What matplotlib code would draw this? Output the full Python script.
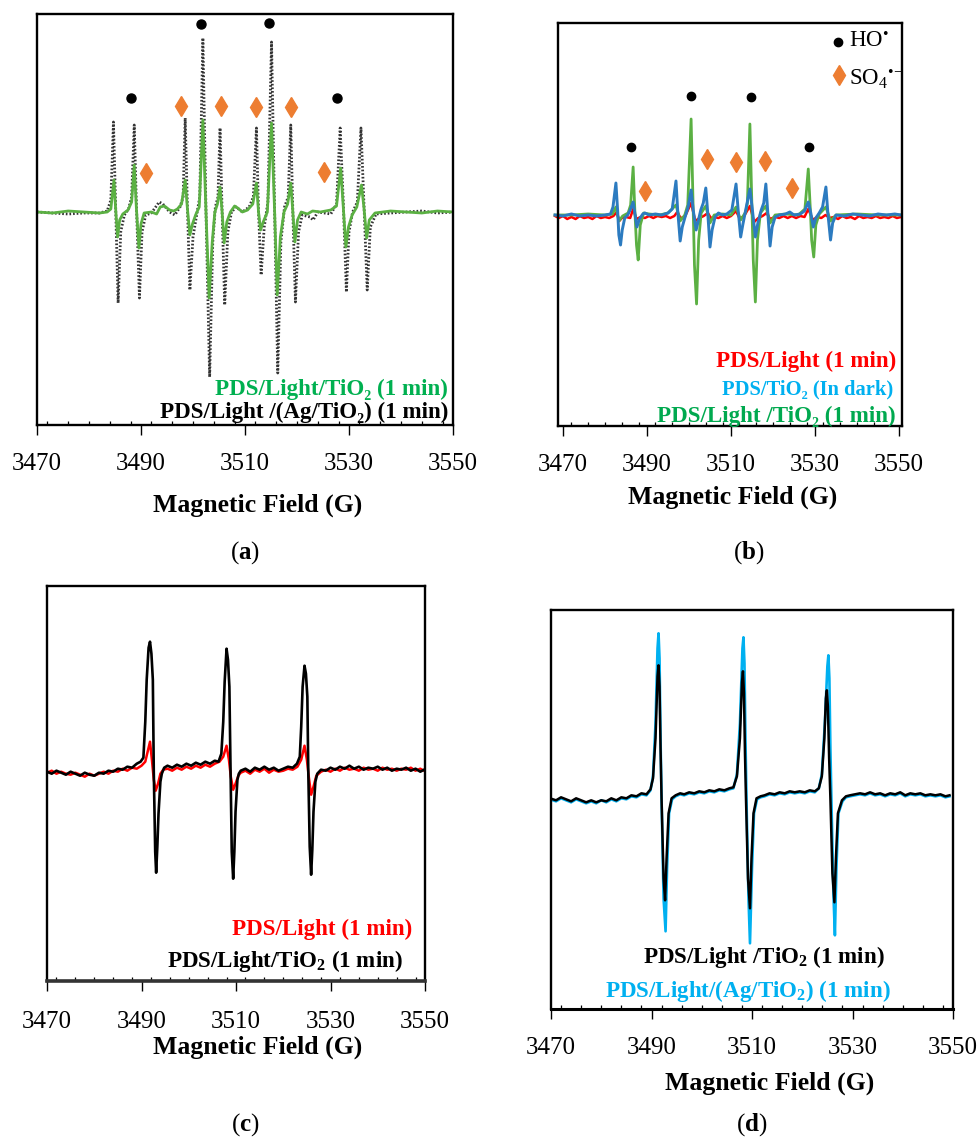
import numpy as np
import matplotlib
matplotlib.use("Agg")
import matplotlib.pyplot as plt
from matplotlib.ticker import MultipleLocator

plt.rcParams['font.family'] = ['Liberation Serif', 'DejaVu Serif']
plt.rcParams['mathtext.fontset'] = 'custom'
plt.rcParams['mathtext.rm'] = 'Liberation Serif'
plt.rcParams['mathtext.it'] = 'Liberation Serif:italic'
plt.rcParams['mathtext.bf'] = 'Liberation Serif:bold'

W, H = 979, 1137

GREEN_TXT = '#00B050'
GREEN_LN = '#5BB043'
ORANGE = '#ED7D31'
BLUE_LN = '#2C7BC0'
CYAN = '#00B0F0'
RED = '#FF0000'

# ---- panel (a): field (G), intensity (a.u.) ----
a_black = [
    (3470, 0), (3473, -1), (3476, -2), (3479, -1), (3482, -1), (3483.5, 1),
    (3484.2, 12), (3484.7, 90), (3485.1, 10), (3485.6, -91), (3486.1, -20),
    (3486.8, -3), (3487.6, 3), (3488.2, 15), (3488.7, 87), (3489.1, 10),
    (3489.7, -86), (3490.2, -20), (3490.9, -3), (3492, -1), (3493.5, 10),
    (3494.2, 8), (3495.5, 0), (3496.5, -3), (3497.5, 5), (3498.1, 15),
    (3498.5, 94), (3498.9, 10), (3499.4, -78), (3500.0, -25), (3500.7, -3),
    (3501.3, 15), (3501.9, 174), (3502.5, 0), (3503.2, -165), (3503.8, -30),
    (3504.3, 5), (3504.8, 15), (3505.2, 84), (3505.6, 0), (3506.1, -93),
    (3506.7, -20), (3507.4, 0), (3508.3, 5), (3509.5, 0), (3510.8, 5),
    (3511.6, 15), (3512.2, 84), (3512.6, 0), (3513.1, -63), (3513.7, -15),
    (3514.4, 10), (3515.1, 170), (3515.7, 0), (3516.3, -161), (3516.9, -30),
    (3517.6, 5), (3518.3, 15), (3518.8, 87), (3519.2, 0), (3519.7, -90),
    (3520.3, -20), (3521.0, -3), (3522.5, -5), (3523.1, -8), (3524.0, 0),
    (3526.5, -2), (3527.6, 8), (3528.3, 84), (3528.9, 10), (3529.5, -80),
    (3530.0, -20), (3530.7, 0), (3531.6, 10), (3532.3, 84), (3532.9, 5),
    (3533.5, -78), (3534.1, -15), (3535.2, -2), (3538, -1), (3541, 0),
    (3544, 1), (3547, -1), (3550, 0)]
a_green = [
    (3470, 0), (3473, -1), (3476, 1), (3479, 0), (3482, -1), (3483.5, 0),
    (3484.2, 3), (3484.8, 32), (3485.1, 5), (3485.5, -25), (3485.9, -8),
    (3486.5, -2), (3487.5, 2), (3488.2, 10), (3488.7, 47), (3489.1, 5),
    (3489.6, -36), (3490.0, -12), (3490.6, -1), (3492, 0), (3493.0, -2),
    (3493.7, 5), (3494.5, 6), (3495.5, 2), (3496.3, 1), (3497.0, 3),
    (3497.8, 8), (3498.5, 32), (3498.9, 5), (3499.4, -23), (3499.9, -12),
    (3500.5, -3), (3501.2, 5), (3501.9, 92), (3502.5, 0), (3503.1, -86),
    (3503.7, -30), (3504.2, 0), (3504.7, 8), (3505.2, 25), (3505.6, 0),
    (3506.0, -31), (3506.5, -10), (3507.2, 0), (3508.0, 6), (3508.6, 4),
    (3509.5, 0), (3510.5, 2), (3511.5, 8), (3512.2, 29), (3512.6, 0),
    (3513.0, -18), (3513.5, -10), (3514.3, 0), (3515.1, 89), (3515.7, 0),
    (3516.2, -83), (3516.8, -25), (3517.5, 0), (3518.2, 8), (3518.8, 29),
    (3519.2, 0), (3519.6, -30), (3520.1, -8), (3520.8, 0), (3522, -2),
    (3523, 1), (3524.5, 0), (3526.5, 2), (3527.6, 6), (3528.4, 44),
    (3528.9, 5), (3529.4, -35), (3529.9, -15), (3530.6, -3), (3531.5, 5),
    (3532.4, 27), (3532.9, 3), (3533.4, -26), (3533.9, -8), (3535, -1),
    (3538, 1), (3541, 0), (3544, -1), (3547, 1), (3550, 0)]
a_ho_x = [3488.1, 3501.5, 3514.6, 3527.6]
a_ho_y = [114, 188, 189, 114]
a_so4_x = [3491.0, 3497.7, 3505.3, 3512.1, 3518.8, 3525.1]
a_so4_y = [39, 106, 106, 105, 105, 40]

# ---- panel (b) ----
b_red = [
    (3468.1, -1), (3469, -3), (3470, -1), (3471, -4), (3472, -2), (3473, -4),
    (3474, -1), (3475, -3), (3476, -2), (3477, -4), (3478, -1), (3479, -3),
    (3480, -2), (3481, -3), (3482, -1), (3482.8, 3), (3483.4, -6), (3484, -3),
    (3485, -2), (3486, -3), (3486.7, 6), (3487.5, -4), (3488.5, -2),
    (3489.5, -3), (3490.5, -1), (3491.5, -3), (3492.5, -1), (3493.5, -2),
    (3494.5, -1), (3495.5, -3), (3496.5, -1), (3497.2, 3), (3498, -3),
    (3499, -2), (3500.5, 12), (3501.5, -6), (3502.5, -3), (3503.5, -1),
    (3504.5, 2), (3505.2, -3), (3506, -2), (3507, -3), (3508, -1), (3509, -3),
    (3510, -1), (3511.2, 4), (3512, -3), (3513, -2), (3514.5, 9), (3515.5, -7),
    (3516.5, -3), (3517.5, -1), (3518.5, 2), (3519.3, -4), (3520.5, -2),
    (3521.5, -3), (3522.5, -1), (3523.5, -3), (3524.5, -1), (3525.5, -3),
    (3526.5, -1), (3527.5, -2), (3528.4, 6), (3529.5, -5), (3530.5, -2),
    (3531.5, -3), (3532.5, 0), (3533.5, -3), (3534.5, -2), (3535.5, -4),
    (3536.5, -1), (3537.5, -3), (3538.5, -2), (3539.5, -4), (3540.5, -1),
    (3541.5, -3), (3542.5, -2), (3543.5, -3), (3544.5, -1), (3545.5, -3),
    (3546.5, -2), (3547.5, -3), (3548.5, -1), (3549.5, -3), (3550.5, -2)]
b_green = [
    (3468.1, 0), (3472, 0), (3476, 1), (3480, 0), (3481.8, 1), (3482.6, 8),
    (3483.3, -6), (3484.2, -1), (3485.5, 2), (3486.1, 10), (3486.7, 48),
    (3487.1, 5), (3487.5, -30), (3487.9, -45), (3488.4, -10), (3489.2, 2),
    (3490.5, 1), (3493, 0), (3495, 2), (3496.9, 10), (3497.9, -6), (3499, 0),
    (3499.7, 10), (3500.5, 96), (3501.0, 5), (3501.3, -50), (3501.8, -89),
    (3502.3, -25), (3502.9, 2), (3504.0, 9), (3505.0, -8), (3506, 0),
    (3508, 1), (3510, 0), (3511.2, 8), (3512.3, -5), (3513.5, 3), (3513.9, 12),
    (3514.5, 91), (3515.0, 5), (3515.3, -45), (3515.8, -87), (3516.3, -25),
    (3517, 2), (3518.3, 9), (3519.3, -8), (3520.5, 0), (3523, 1), (3526, 0),
    (3527.6, 6), (3528.4, 46), (3528.9, 5), (3529.2, -25), (3529.7, -42),
    (3530.2, -10), (3531.0, 1), (3532.6, 8), (3533.7, -6), (3535, 0),
    (3540, 1), (3545, 0), (3550.5, 0)]
b_blue = [
    (3468.1, 0), (3470, -1), (3472, 1), (3474, -1), (3476, 0), (3478, -1),
    (3480, 0), (3481.3, 1), (3481.9, 8), (3482.6, 32), (3483.0, 5),
    (3483.3, -20), (3483.7, -30), (3484.1, -15), (3484.7, -3), (3485.4, 0),
    (3486.0, 5), (3486.7, 13), (3487.1, 2), (3487.6, -12), (3488.2, -4),
    (3489.0, 1), (3489.5, 2), (3490.5, 0), (3492, 1), (3493.5, 0), (3495, 2),
    (3496.0, 6), (3496.9, 34), (3497.3, 5), (3497.9, -26), (3498.4, -12),
    (3499.0, -3), (3499.8, 8), (3500.5, 25), (3501.0, 5), (3501.7, -15),
    (3502.2, -6), (3502.8, 5), (3503.4, 12), (3504.0, 27), (3504.5, 0),
    (3505.0, -32), (3505.5, -15), (3506.2, -2), (3507.0, 2), (3508.0, 0),
    (3509.0, 1), (3510.2, 5), (3511.2, 31), (3511.7, 5), (3512.3, -22),
    (3512.8, -10), (3513.5, 5), (3514.5, 26), (3515.1, 5), (3515.8, -22),
    (3516.4, -8), (3517.2, 5), (3517.8, 12), (3518.3, 31), (3518.8, 0),
    (3519.3, -31), (3519.8, -12), (3520.5, -2), (3521.5, 0), (3523, 1),
    (3524.0, 3), (3525, 0), (3526.5, 1), (3527.5, 4), (3528.4, 13),
    (3529.0, 2), (3529.6, -12), (3530.2, -3), (3531.0, 2), (3531.8, 8),
    (3532.6, 28), (3533.1, 0), (3533.7, -25), (3534.2, -8), (3535, 0),
    (3537, -1), (3539, 1), (3541, 0), (3543, -1), (3545, 1), (3547, 0),
    (3549, 1), (3550.5, 0)]
b_ho_x = [3486.2, 3500.4, 3514.7, 3528.5]
b_ho_y = [68, 119, 118, 68]
b_so4_x = [3489.5, 3504.4, 3511.2, 3518.1, 3524.6]
b_so4_y = [24, 56, 53, 54, 27]

# ---- panel (c) ----
c_red = [
    (3470, -1), (3471, 1), (3472, -2), (3473, 0), (3474, -2), (3475, -3),
    (3476, -1), (3477, -3), (3478, -5), (3479, -2), (3480, -4), (3481, -2),
    (3482, 0), (3483, -2), (3484, 1), (3485, 0), (3486, 3), (3487, 1),
    (3488, 4), (3489, 3), (3490, 6), (3490.8, 10), (3491.4, 22), (3491.8, 30),
    (3492.2, 12), (3492.6, -8), (3493.0, -19), (3493.5, -12), (3494.0, -2),
    (3494.6, 2), (3495.5, 3), (3496.5, 1), (3497.5, 4), (3498.5, 2),
    (3499.5, 5), (3500.5, 3), (3501.5, 6), (3502.5, 4), (3503.5, 7),
    (3504.5, 5), (3505.5, 8), (3506.5, 10), (3507.3, 15), (3508.0, 26),
    (3508.5, 12), (3508.9, -5), (3509.4, -18), (3509.9, -12), (3510.5, -4),
    (3511, -1), (3512, 1), (3513, -2), (3514, 2), (3515, 0), (3516, 3),
    (3517, -1), (3518, 2), (3519, 0), (3520, 1), (3521, 3), (3522, 2),
    (3523, 5), (3523.8, 12), (3524.5, 26), (3525.0, 12), (3525.4, -5),
    (3525.9, -23), (3526.4, -15), (3527.0, -4), (3528, 0), (3529, 2),
    (3530, 0), (3531, 3), (3532, 1), (3533, 4), (3534, 2), (3535, 3),
    (3536, 1), (3537, 4), (3538, 2), (3539, 3), (3540, 1), (3541, 4),
    (3542, 2), (3543, 3), (3544, 1), (3545, 3), (3546, 2), (3547, 4),
    (3548, 1), (3549, 3), (3549.8, 1)]
c_black = [
    (3470, 0), (3471, -2), (3472, 1), (3473, -1), (3474, -3), (3475, 0),
    (3476, -2), (3477, -4), (3478, -1), (3479, -3), (3480, -4), (3481, -1),
    (3482, -2), (3483, 1), (3484, 0), (3485, 3), (3486, 2), (3487, 5),
    (3488, 4), (3489, 8), (3489.8, 10), (3490.4, 14), (3490.8, 50),
    (3491.1, 92), (3491.5, 124), (3491.8, 130), (3492.1, 118), (3492.4, 92),
    (3492.6, 0), (3492.9, -80), (3493.1, -101), (3493.35, -75), (3493.6, -42),
    (3494.0, -10), (3494.3, -2), (3494.8, 4),
    (3495.5, 6), (3496.5, 4), (3497.5, 7), (3498.5, 5), (3499.5, 8),
    (3500.5, 6), (3501.5, 9), (3502.5, 7), (3503.5, 10), (3504.5, 8),
    (3505.5, 11), (3506.3, 10), (3506.9, 18), (3507.3, 50), (3507.6, 90),
    (3508.0, 123), (3508.3, 112), (3508.6, 85), (3508.85, 0), (3509.1, -80),
    (3509.4, -107), (3509.65, -80), (3509.9, -40), (3510.3, -8), (3510.6, -2),
    (3511, 1), (3512, 3), (3513, 0), (3514, 4),
    (3515, 2), (3516, 5), (3517, 2), (3518, 4), (3519, 1), (3520, 3),
    (3521, 5), (3522, 4), (3522.9, 8), (3523.5, 15), (3523.8, 45),
    (3524.1, 85), (3524.5, 106), (3524.8, 98), (3525.1, 75), (3525.3, 0),
    (3525.6, -75), (3525.9, -103), (3526.15, -78), (3526.4, -40), (3526.8, -10),
    (3527.2, -2), (3528, 2), (3529, 1),
    (3530, 4), (3531, 2), (3532, 5), (3533, 3), (3534, 6), (3535, 3),
    (3536, 5), (3537, 2), (3538, 4), (3539, 3), (3540, 5), (3541, 2),
    (3542, 4), (3543, 1), (3544, 3), (3545, 2), (3546, 4), (3547, 1),
    (3548, 3), (3549, 0), (3549.8, 2)]

# ---- panel (d) ----
d_cyan = [
    (3469.8, -1), (3471, -3), (3472, 0), (3473, -2), (3474, -4), (3475, -1),
    (3476, -3), (3477, -5), (3478, -3), (3479, -5), (3480, -2), (3481, -4),
    (3482, -1), (3483, -3), (3484, 0), (3485, -1), (3486, 2), (3487, 1),
    (3488, 4), (3489, 3), (3489.8, 8), (3490.3, 22), (3490.8, 75),
    (3491.2, 150), (3491.4, 165), (3491.6, 140), (3491.8, 60), (3492.0, 0),
    (3492.4, -100), (3492.8, -133), (3493.1, -70), (3493.5, -15), (3494.1, -1),
    (3494.8, 2), (3495.7, 4),
    (3496.5, 3), (3497.5, 5), (3498.5, 4), (3499.5, 6), (3500.5, 5),
    (3501.5, 7), (3502.5, 6), (3503.5, 8), (3504.5, 7), (3505.5, 9),
    (3506.3, 10), (3507.0, 24), (3507.6, 75), (3508.1, 150), (3508.3, 161),
    (3508.5, 135), (3508.7, 60), (3508.9, 0), (3509.3, -100), (3509.6, -145),
    (3510.0, -70), (3510.4, -15),
    (3511.0, -1), (3511.7, 1), (3512.5, 2), (3513.5, 4), (3514.5, 3),
    (3515.5, 5), (3516.5, 4), (3517.5, 6), (3518.5, 5), (3519.5, 6),
    (3520.5, 5), (3521.5, 7), (3522.5, 6), (3523.3, 10), (3523.9, 24),
    (3524.5, 75), (3525.0, 132), (3525.2, 143), (3525.4, 120), (3525.6, 50),
    (3525.8, 0), (3526.2, -95),
    (3526.5, -137), (3526.8, -70), (3527.2, -15), (3528.0, -3), (3528.7, 1),
    (3529.5, 2), (3530.5, 3), (3531.5, 4), (3532.5, 3), (3533.5, 5),
    (3534.5, 3), (3535.5, 4), (3536.5, 2), (3537.5, 4), (3538.5, 3),
    (3539.5, 5), (3540.5, 2), (3541.5, 4), (3542.5, 3), (3543.5, 4),
    (3544.5, 2), (3545.5, 3), (3546.5, 2), (3547.5, 3), (3548.5, 1),
    (3549.3, 2)]
d_black = [
    (3469.8, 0), (3471, -2), (3472, 1), (3473, -1), (3474, -3), (3475, 0),
    (3476, -2), (3477, -4), (3478, -2), (3479, -4), (3480, -2), (3481, -3),
    (3482, 0), (3483, -2), (3484, 1), (3485, 0), (3486, 3), (3487, 2),
    (3488, 5), (3489, 4), (3489.8, 9), (3490.3, 20), (3490.8, 60),
    (3491.2, 122), (3491.4, 133), (3491.6, 112), (3491.8, 50), (3492.0, 0),
    (3492.4, -80), (3492.7, -102),
    (3493.0, -60), (3493.4, -15), (3494.0, 0), (3494.8, 3), (3495.7, 5),
    (3496.5, 4), (3497.5, 6), (3498.5, 5), (3499.5, 7), (3500.5, 6),
    (3501.5, 8), (3502.5, 7), (3503.5, 9), (3504.5, 8), (3505.5, 10),
    (3506.3, 11), (3507.0, 22), (3507.6, 60), (3508.0, 116), (3508.2, 127),
    (3508.4, 105), (3508.6, 45), (3508.8, 0), (3509.2, -80), (3509.6, -110),
    (3509.9, -60), (3510.3, -15),
    (3510.9, 0), (3511.7, 2), (3512.5, 3), (3513.5, 5), (3514.5, 4),
    (3515.5, 6), (3516.5, 5), (3517.5, 7), (3518.5, 6), (3519.5, 7),
    (3520.5, 6), (3521.5, 8), (3522.5, 7), (3523.3, 10), (3523.9, 22),
    (3524.4, 60), (3524.7, 100), (3524.9, 108), (3525.1, 92), (3525.35, 40),
    (3525.6, 0), (3526.0, -75),
    (3526.4, -104), (3526.7, -60), (3527.1, -15), (3527.9, -2), (3528.7, 2),
    (3529.5, 3), (3530.5, 4), (3531.5, 5), (3532.5, 4), (3533.5, 6),
    (3534.5, 4), (3535.5, 5), (3536.5, 3), (3537.5, 5), (3538.5, 4),
    (3539.5, 6), (3540.5, 3), (3541.5, 5), (3542.5, 4), (3543.5, 5),
    (3544.5, 3), (3545.5, 4), (3546.5, 3), (3547.5, 4), (3548.5, 2),
    (3549.3, 3)]

field_ticks = [3470, 3490, 3510, 3530, 3550]


def xy(pts):
    arr = np.array(pts, dtype=float)
    return arr[:, 0], arr[:, 1]


fig = plt.figure(figsize=(W / 100, H / 100), dpi=100)


def panel(l, r, t, b, xlim, ylim, spine_lw=1.7, bottom_lw=1.7, bottom_col='black', pad=12.5):
    ax = fig.add_axes([l / W, 1 - b / H, (r - l) / W, (b - t) / H])
    ax.set_xlim(*xlim)
    ax.set_ylim(*ylim)
    ax.set_yticks([])
    ax.set_xticks(field_ticks)
    ax.xaxis.set_minor_locator(MultipleLocator(4))
    ax.tick_params(axis='x', which='major', direction='out', length=7.5, width=1.0,
                   labelsize=18, pad=pad)
    ax.tick_params(axis='x', which='minor', direction='in', length=3, width=0.9)
    for s in ax.spines.values():
        s.set_linewidth(spine_lw)
    ax.spines['bottom'].set_linewidth(bottom_lw)
    ax.spines['bottom'].set_color(bottom_col)
    return ax


def ftext(px, py, s, **kw):
    fig.text(px / W, 1 - py / H, s, **kw)


LEG = 16.6
XL = 18.5

# (a)
ax = panel(37, 453, 14, 425, (3470, 3550), (-213, 198))
x, y = xy(a_black)
ax.plot(x, y, color='#333333', lw=2.0, ls=(0, (0.6, 0.7)))
x, y = xy(a_green)
ax.plot(x, y, color=GREEN_LN, lw=2.0)
ax.plot(a_ho_x, a_ho_y, 'o', color='black', ms=6.5, ls='none')
ax.plot(a_so4_x, a_so4_y, 'd', color=ORANGE, ms=10, ls='none')
ftext(448, 395, 'PDS/Light/TiO₂ (1 min)', color=GREEN_TXT, fontsize=LEG,
      fontweight='bold', ha='right', va='baseline')
ftext(448, 418, 'PDS/Light /(Ag/TiO₂) (1 min)', color='black', fontsize=LEG,
      fontweight='bold', ha='right', va='baseline')
ftext(258, 505, 'Magnetic Field (G)', fontsize=XL, fontweight='bold', ha='center', va='center')
ftext(245, 553, r'($\mathbf{a}$)', fontsize=18, ha='center', va='center')

# (b)
ax = panel(558, 902, 23, 426, (3470 - 5 / 4.2, 3550 + 3 / 4.2), (-211, 192))
x, y = xy(b_red)
ax.plot(x, y, color=RED, lw=1.8, clip_on=False)
x, y = xy(b_green)
ax.plot(x, y, color=GREEN_LN, lw=2.0, clip_on=False)
x, y = xy(b_blue)
ax.plot(x, y, color=BLUE_LN, lw=2.1, clip_on=False)
ax.plot(b_ho_x, b_ho_y, 'o', color='black', ms=6, ls='none')
ax.plot(b_so4_x, b_so4_y, 'd', color=ORANGE, ms=10, ls='none')
ax.plot([0.815], [0.953], 'o', color='black', ms=6, transform=ax.transAxes)
ax.plot([0.818], [0.870], 'd', color=ORANGE, ms=10, transform=ax.transAxes)
ftext(849, 41, r'HO$^{\mathrm{•}}$', fontsize=16.5, ha='left', va='center')
ftext(849, 79, r'SO$_4$$^{\mathrm{•}\!-}$', fontsize=16.5, ha='left', va='center')
ftext(896, 367, 'PDS/Light (1 min)', color=RED, fontsize=LEG,
      fontweight='bold', ha='right', va='baseline')
ftext(893, 394, 'PDS/TiO₂ (In dark)', color=CYAN, fontsize=14.8,
      fontweight='bold', ha='right', va='baseline')
ftext(896, 422, 'PDS/Light /TiO₂ (1 min)', color='#00A94F', fontsize=LEG,
      fontweight='bold', ha='right', va='baseline')
ftext(733, 497, 'Magnetic Field (G)', fontsize=XL, fontweight='bold', ha='center', va='center')
ftext(749, 553, r'($\mathbf{b}$)', fontsize=18, ha='center', va='center')

# (c)
ax = panel(47, 425, 586, 981, (3470, 3550), (-209.3, 185.7), bottom_lw=2.6,
           bottom_col='#333333', pad=14)
x, y = xy(c_red)
ax.plot(x, y, color=RED, lw=1.8)
x, y = xy(c_black)
ax.plot(x, y, color='black', lw=1.9)
ftext(412, 935, 'PDS/Light (1 min)', color=RED, fontsize=LEG,
      fontweight='bold', ha='right', va='baseline')
ftext(403, 967, r'PDS/Light/TiO$_\mathbf{2}$ (1 min)', color='black', fontsize=LEG,
      fontweight='bold', ha='right', va='baseline')
ftext(258, 1047, 'Magnetic Field (G)', fontsize=XL, fontweight='bold', ha='center', va='center')
ftext(245, 1125, r'($\mathbf{c}$)', fontsize=18, ha='center', va='center')

# (d)
ax = panel(551, 953, 610, 1009, (3470, 3550), (-210.7, 188.3), bottom_lw=2.2, pad=13)
x, y = xy(d_cyan)
ax.plot(x, y, color=CYAN, lw=1.9)
x, y = xy(d_black)
ax.plot(x, y, color='black', lw=1.8)
ftext(764, 963, r'PDS/Light /TiO$_\mathbf{2}$ (1 min)', color='black', fontsize=LEG,
      fontweight='bold', ha='center', va='baseline')
ftext(748, 997, r'PDS/Light/(Ag/TiO$_\mathbf{2}$) (1 min)', color=CYAN, fontsize=LEG,
      fontweight='bold', ha='center', va='baseline')
ftext(770, 1083, 'Magnetic Field (G)', fontsize=XL, fontweight='bold', ha='center', va='center')
ftext(752, 1125, r'($\mathbf{d}$)', fontsize=18, ha='center', va='center')

fig.savefig('out.png', dpi=100)
